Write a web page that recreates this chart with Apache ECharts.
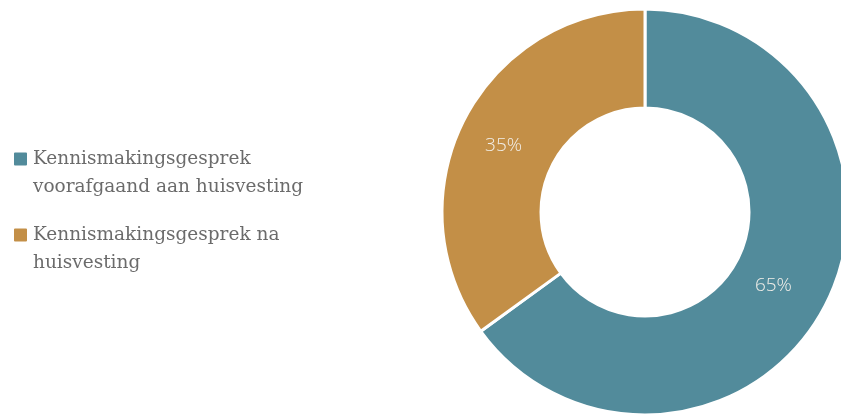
<!DOCTYPE html>
<html><head><meta charset="utf-8">
<script src="https://cdn.jsdelivr.net/npm/echarts@6/dist/echarts.min.js"></script>
<style>html,body{margin:0;padding:0;background:#fff}#c{width:841px;height:414px}</style>
</head><body><div id="c"></div>
<script>
var categories = ['Kennismakingsgesprek voorafgaand aan huisvesting', 'Kennismakingsgesprek na huisvesting'];
var values = [65, 35];
var colors = ['#528b9b', '#c38f47'];

// label nudges (styling only)
var labelNudge = [[-11, 3], [-2, 5]];

var chart = echarts.init(document.getElementById('c'));
chart.setOption({
  animation: false,
  color: colors,
  legend: {
    orient: 'vertical',
    left: 12,
    top: 145,
    padding: 0,
    itemWidth: 15,
    itemHeight: 43,
    itemGap: 20,
    icon: 'path://M2,0L13,0Q15,0 15,2L15,13Q15,15 13,15L2,15Q0,15 0,13L0,2Q0,0 2,0Z M0,43',
    data: categories,
    textStyle: {
      fontFamily: "'DejaVu Serif', serif",
      fontSize: 18.5,
      color: '#6b6b6b',
      lineHeight: 28,
      width: 280,
      overflow: 'break'
    }
  },
  series: [{
    type: 'pie',
    center: [645, 212],
    radius: [104, 203],
    startAngle: 90,
    clockwise: true,
    avoidLabelOverlap: false,
    itemStyle: { borderColor: '#fff', borderWidth: 3 },
    label: {
      show: true,
      position: 'inside',
      formatter: '{c}%',
      color: '#f2efe9',
      fontFamily: "'Open Sans', sans-serif",
      fontSize: 19,
      fontWeight: 300
    },
    labelLine: { show: false },
    data: categories.map(function (n, i) {
      return { name: n, value: values[i], label: { offset: labelNudge[i] } };
    })
  }]
});
</script></body></html>
